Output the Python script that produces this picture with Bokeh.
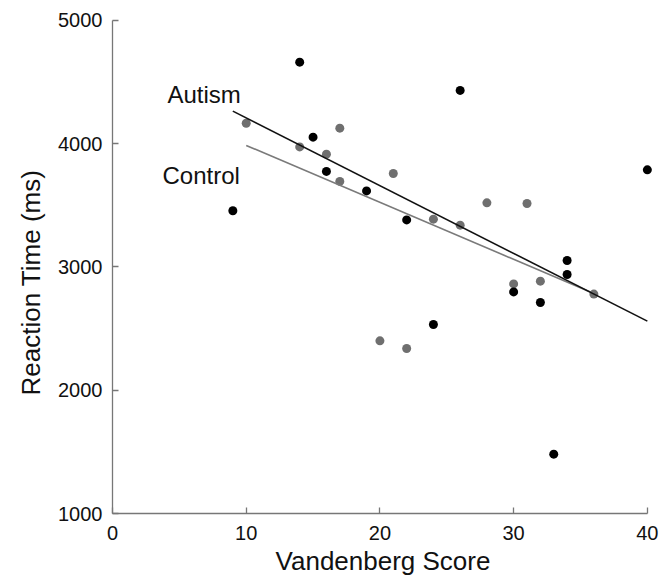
from bokeh.plotting import figure
from bokeh.models import FixedTicker, Label, Range1d, Title
from bokeh.embed import file_html
from bokeh.resources import INLINE

# ---- data ----
autism_x = [9, 14, 15, 16, 19, 22, 24, 26, 30, 32, 33, 34, 34, 40]
autism_y = [3455, 4660, 4052, 3774, 3616, 3381, 2533, 4431, 2797, 2711, 1481, 3052, 2938, 3787]
control_x = [10, 14, 16, 17, 17, 20, 21, 22, 24, 26, 28, 30, 31, 32, 36]
control_y = [4165, 3973, 3914, 4125, 3693, 2400, 3757, 2338, 3387, 3338, 3519, 2862, 3514, 2884, 2779]
autism_fit_x = [9, 40]
autism_fit_y = [4263, 2560]
control_fit_x = [10, 36]
control_fit_y = [3985, 2784]
x_ticks = [0, 10, 20, 30, 40]
y_ticks = [1000, 2000, 3000, 4000, 5000]
x_title = "Vandenberg Score"
y_title = "Reaction Time (ms)"
group_names = ["Autism", "Control"]

FONT = "Liberation Sans"
AXIS_COL = "#777777"

p = figure(
    width=660, height=578,
    frame_width=541, frame_height=503,
    x_range=Range1d(0, 40.46), y_range=Range1d(1000, 5079),
    output_backend="svg", toolbar_location=None,
    min_border_left=112, min_border_right=7, min_border_top=10, min_border_bottom=65,
)
p.title.visible = False
p.outline_line_color = None
p.background_fill_color = "white"
p.border_fill_color = "white"
p.xgrid.visible = False
p.ygrid.visible = False

for ax in (p.xaxis[0], p.yaxis[0]):
    ax.axis_line_color = AXIS_COL
    ax.axis_line_width = 1.3
    ax.major_tick_line_color = AXIS_COL
    ax.major_tick_line_width = 1.3
    ax.major_tick_in = 6
    ax.major_tick_out = 0
    ax.minor_tick_line_color = None
    ax.major_label_text_font = FONT
    ax.major_label_text_font_size = "20px"
    ax.major_label_text_color = "#111111"

p.xaxis[0].ticker = FixedTicker(ticks=x_ticks)
p.yaxis[0].ticker = FixedTicker(ticks=y_ticks)
p.xaxis[0].bounds = (0, 40)
p.yaxis[0].bounds = (1000, 5000)
p.xaxis[0].major_label_standoff = 12
p.yaxis[0].major_label_standoff = 10

# points
p.scatter(control_x, control_y, size=9, color="#6f6f6f", line_color=None)
p.scatter(autism_x, autism_y, size=9, color="#000000", line_color=None)

# fit lines
p.line(control_fit_x, control_fit_y, line_color="#7a7a7a", line_width=1.6)
p.line(autism_fit_x, autism_fit_y, line_color="#111111", line_width=1.6)

# group labels
p.add_layout(Label(x=4.11, y=4398, text=group_names[0], text_font=FONT,
                   text_font_size="24px", text_color="#111111",
                   text_align="left", text_baseline="alphabetic"))
p.add_layout(Label(x=3.74, y=3741, text=group_names[1], text_font=FONT,
                   text_font_size="24px", text_color="#111111",
                   text_align="left", text_baseline="alphabetic"))

# axis titles
p.add_layout(Title(text=x_title, align="center", text_font=FONT,
                   text_font_size="26px", text_font_style="normal",
                   text_color="#111111", standoff=3), "below")
p.add_layout(Title(text=y_title, align="left", offset=118, text_font=FONT,
                   text_font_size="26px", text_font_style="normal",
                   text_color="#111111", standoff=20), "left")

open("out.html", "w").write(file_html(p, INLINE))
